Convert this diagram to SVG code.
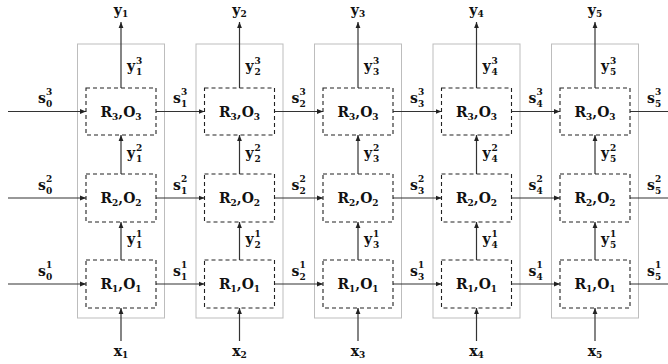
<svg xmlns="http://www.w3.org/2000/svg" width="668" height="364" viewBox="0 0 668 364">
<style>
.outer{fill:none;stroke:#bdbdbd;stroke-width:1}
.dash{fill:#fff;stroke:#222;stroke-width:1.1;stroke-dasharray:4,3}
.c{stroke:#333;stroke-width:1.2;fill:none}
.a{marker-end:url(#ah)}
text{font-family:"DejaVu Serif","Liberation Serif",serif;font-weight:bold;fill:#111}
.m{font-size:14px}
.s{font-size:9px}
.n{font-size:14px;text-anchor:middle}
</style>
<defs>
<marker id="ah" viewBox="0 0 6 6" refX="6" refY="3" markerWidth="6" markerHeight="6" markerUnits="userSpaceOnUse" orient="auto">
<path d="M0,0.6 L6,3 L0,5.4 z" fill="#222"/>
</marker>
</defs>
<g id="cells">
<rect class="outer" x="77.5" y="44" width="87" height="274"/>
<rect class="outer" x="196" y="44" width="87" height="274"/>
<rect class="outer" x="314.5" y="44" width="87" height="274"/>
<rect class="outer" x="433" y="44" width="87" height="274"/>
<rect class="outer" x="551.5" y="44" width="87" height="274"/>
</g>
<g id="connectors">
<line class="c a" x1="121" y1="88" x2="121" y2="22"/>
<line class="c a" x1="121" y1="174" x2="121" y2="135"/>
<line class="c a" x1="121" y1="260" x2="121" y2="222"/>
<line class="c a" x1="121" y1="341" x2="121" y2="308"/>
<line class="c a" x1="239.5" y1="88" x2="239.5" y2="22"/>
<line class="c a" x1="239.5" y1="174" x2="239.5" y2="135"/>
<line class="c a" x1="239.5" y1="260" x2="239.5" y2="222"/>
<line class="c a" x1="239.5" y1="341" x2="239.5" y2="308"/>
<line class="c a" x1="358" y1="88" x2="358" y2="22"/>
<line class="c a" x1="358" y1="174" x2="358" y2="135"/>
<line class="c a" x1="358" y1="260" x2="358" y2="222"/>
<line class="c a" x1="358" y1="341" x2="358" y2="308"/>
<line class="c a" x1="476.5" y1="88" x2="476.5" y2="22"/>
<line class="c a" x1="476.5" y1="174" x2="476.5" y2="135"/>
<line class="c a" x1="476.5" y1="260" x2="476.5" y2="222"/>
<line class="c a" x1="476.5" y1="341" x2="476.5" y2="308"/>
<line class="c a" x1="595" y1="88" x2="595" y2="22"/>
<line class="c a" x1="595" y1="174" x2="595" y2="135"/>
<line class="c a" x1="595" y1="260" x2="595" y2="222"/>
<line class="c a" x1="595" y1="341" x2="595" y2="308"/>
<line class="c a" x1="8" y1="111.5" x2="86" y2="111.5"/>
<line class="c a" x1="8" y1="198" x2="86" y2="198"/>
<line class="c a" x1="8" y1="284" x2="86" y2="284"/>
<line class="c a" x1="156" y1="111.5" x2="204.5" y2="111.5"/>
<line class="c a" x1="156" y1="198" x2="204.5" y2="198"/>
<line class="c a" x1="156" y1="284" x2="204.5" y2="284"/>
<line class="c a" x1="274.5" y1="111.5" x2="323" y2="111.5"/>
<line class="c a" x1="274.5" y1="198" x2="323" y2="198"/>
<line class="c a" x1="274.5" y1="284" x2="323" y2="284"/>
<line class="c a" x1="393" y1="111.5" x2="441.5" y2="111.5"/>
<line class="c a" x1="393" y1="198" x2="441.5" y2="198"/>
<line class="c a" x1="393" y1="284" x2="441.5" y2="284"/>
<line class="c a" x1="511.5" y1="111.5" x2="560" y2="111.5"/>
<line class="c a" x1="511.5" y1="198" x2="560" y2="198"/>
<line class="c a" x1="511.5" y1="284" x2="560" y2="284"/>
<line class="c" x1="630" y1="111.5" x2="668" y2="111.5"/>
<line class="c" x1="630" y1="198" x2="668" y2="198"/>
<line class="c" x1="630" y1="284" x2="668" y2="284"/>
</g>
<g id="n1_3"><rect class="dash" x="86" y="88" width="70" height="47"/><text class="n" x="121" y="116.5">R<tspan class="s" dy="3">3</tspan><tspan dy="-3">,O</tspan><tspan class="s" dy="3">3</tspan></text></g>
<g id="n1_2"><rect class="dash" x="86" y="174" width="70" height="48"/><text class="n" x="121" y="203">R<tspan class="s" dy="3">2</tspan><tspan dy="-3">,O</tspan><tspan class="s" dy="3">2</tspan></text></g>
<g id="n1_1"><rect class="dash" x="86" y="260" width="70" height="48"/><text class="n" x="121" y="289">R<tspan class="s" dy="3">1</tspan><tspan dy="-3">,O</tspan><tspan class="s" dy="3">1</tspan></text></g>
<g id="n2_3"><rect class="dash" x="204.5" y="88" width="70" height="47"/><text class="n" x="239.5" y="116.5">R<tspan class="s" dy="3">3</tspan><tspan dy="-3">,O</tspan><tspan class="s" dy="3">3</tspan></text></g>
<g id="n2_2"><rect class="dash" x="204.5" y="174" width="70" height="48"/><text class="n" x="239.5" y="203">R<tspan class="s" dy="3">2</tspan><tspan dy="-3">,O</tspan><tspan class="s" dy="3">2</tspan></text></g>
<g id="n2_1"><rect class="dash" x="204.5" y="260" width="70" height="48"/><text class="n" x="239.5" y="289">R<tspan class="s" dy="3">1</tspan><tspan dy="-3">,O</tspan><tspan class="s" dy="3">1</tspan></text></g>
<g id="n3_3"><rect class="dash" x="323" y="88" width="70" height="47"/><text class="n" x="358" y="116.5">R<tspan class="s" dy="3">3</tspan><tspan dy="-3">,O</tspan><tspan class="s" dy="3">3</tspan></text></g>
<g id="n3_2"><rect class="dash" x="323" y="174" width="70" height="48"/><text class="n" x="358" y="203">R<tspan class="s" dy="3">2</tspan><tspan dy="-3">,O</tspan><tspan class="s" dy="3">2</tspan></text></g>
<g id="n3_1"><rect class="dash" x="323" y="260" width="70" height="48"/><text class="n" x="358" y="289">R<tspan class="s" dy="3">1</tspan><tspan dy="-3">,O</tspan><tspan class="s" dy="3">1</tspan></text></g>
<g id="n4_3"><rect class="dash" x="441.5" y="88" width="70" height="47"/><text class="n" x="476.5" y="116.5">R<tspan class="s" dy="3">3</tspan><tspan dy="-3">,O</tspan><tspan class="s" dy="3">3</tspan></text></g>
<g id="n4_2"><rect class="dash" x="441.5" y="174" width="70" height="48"/><text class="n" x="476.5" y="203">R<tspan class="s" dy="3">2</tspan><tspan dy="-3">,O</tspan><tspan class="s" dy="3">2</tspan></text></g>
<g id="n4_1"><rect class="dash" x="441.5" y="260" width="70" height="48"/><text class="n" x="476.5" y="289">R<tspan class="s" dy="3">1</tspan><tspan dy="-3">,O</tspan><tspan class="s" dy="3">1</tspan></text></g>
<g id="n5_3"><rect class="dash" x="560" y="88" width="70" height="47"/><text class="n" x="595" y="116.5">R<tspan class="s" dy="3">3</tspan><tspan dy="-3">,O</tspan><tspan class="s" dy="3">3</tspan></text></g>
<g id="n5_2"><rect class="dash" x="560" y="174" width="70" height="48"/><text class="n" x="595" y="203">R<tspan class="s" dy="3">2</tspan><tspan dy="-3">,O</tspan><tspan class="s" dy="3">2</tspan></text></g>
<g id="n5_1"><rect class="dash" x="560" y="260" width="70" height="48"/><text class="n" x="595" y="289">R<tspan class="s" dy="3">1</tspan><tspan dy="-3">,O</tspan><tspan class="s" dy="3">1</tspan></text></g>
<g id="labels">
<text class="n" x="121" y="15">y<tspan class="s" dy="2">1</tspan></text>
<text class="n" x="239.5" y="15">y<tspan class="s" dy="2">2</tspan></text>
<text class="n" x="358" y="15">y<tspan class="s" dy="2">3</tspan></text>
<text class="n" x="476.5" y="15">y<tspan class="s" dy="2">4</tspan></text>
<text class="n" x="595" y="15">y<tspan class="s" dy="2">5</tspan></text>
<text class="n" x="121" y="356">x<tspan class="s" dy="2">1</tspan></text>
<text class="n" x="239.5" y="356">x<tspan class="s" dy="2">2</tspan></text>
<text class="n" x="358" y="356">x<tspan class="s" dy="2">3</tspan></text>
<text class="n" x="476.5" y="356">x<tspan class="s" dy="2">4</tspan></text>
<text class="n" x="595" y="356">x<tspan class="s" dy="2">5</tspan></text>
<g id="vy">
<text class="m" x="127" y="71">y</text><text class="s" x="136" y="64">3</text><text class="s" x="136" y="75">1</text>
<text class="m" x="127" y="158">y</text><text class="s" x="136" y="151">2</text><text class="s" x="136" y="162">1</text>
<text class="m" x="127" y="244">y</text><text class="s" x="136" y="237">1</text><text class="s" x="136" y="248">1</text>
<text class="m" x="245.5" y="71">y</text><text class="s" x="254.5" y="64">3</text><text class="s" x="254.5" y="75">2</text>
<text class="m" x="245.5" y="158">y</text><text class="s" x="254.5" y="151">2</text><text class="s" x="254.5" y="162">2</text>
<text class="m" x="245.5" y="244">y</text><text class="s" x="254.5" y="237">1</text><text class="s" x="254.5" y="248">2</text>
<text class="m" x="364" y="71">y</text><text class="s" x="373" y="64">3</text><text class="s" x="373" y="75">3</text>
<text class="m" x="364" y="158">y</text><text class="s" x="373" y="151">2</text><text class="s" x="373" y="162">3</text>
<text class="m" x="364" y="244">y</text><text class="s" x="373" y="237">1</text><text class="s" x="373" y="248">3</text>
<text class="m" x="482.5" y="71">y</text><text class="s" x="491.5" y="64">3</text><text class="s" x="491.5" y="75">4</text>
<text class="m" x="482.5" y="158">y</text><text class="s" x="491.5" y="151">2</text><text class="s" x="491.5" y="162">4</text>
<text class="m" x="482.5" y="244">y</text><text class="s" x="491.5" y="237">1</text><text class="s" x="491.5" y="248">4</text>
<text class="m" x="601" y="71">y</text><text class="s" x="610" y="64">3</text><text class="s" x="610" y="75">5</text>
<text class="m" x="601" y="158">y</text><text class="s" x="610" y="151">2</text><text class="s" x="610" y="162">5</text>
<text class="m" x="601" y="244">y</text><text class="s" x="610" y="237">1</text><text class="s" x="610" y="248">5</text>
</g>
<g id="hs">
<text class="m" x="38" y="103">s</text><text class="s" x="46" y="95">3</text><text class="s" x="46" y="107">0</text>
<text class="m" x="38" y="190">s</text><text class="s" x="46" y="182">2</text><text class="s" x="46" y="194">0</text>
<text class="m" x="38" y="276">s</text><text class="s" x="46" y="268">1</text><text class="s" x="46" y="280">0</text>
<text class="m" x="173" y="103">s</text><text class="s" x="181" y="95">3</text><text class="s" x="181" y="107">1</text>
<text class="m" x="173" y="190">s</text><text class="s" x="181" y="182">2</text><text class="s" x="181" y="194">1</text>
<text class="m" x="173" y="276">s</text><text class="s" x="181" y="268">1</text><text class="s" x="181" y="280">1</text>
<text class="m" x="291.5" y="103">s</text><text class="s" x="299.5" y="95">3</text><text class="s" x="299.5" y="107">2</text>
<text class="m" x="291.5" y="190">s</text><text class="s" x="299.5" y="182">2</text><text class="s" x="299.5" y="194">2</text>
<text class="m" x="291.5" y="276">s</text><text class="s" x="299.5" y="268">1</text><text class="s" x="299.5" y="280">2</text>
<text class="m" x="410" y="103">s</text><text class="s" x="418" y="95">3</text><text class="s" x="418" y="107">3</text>
<text class="m" x="410" y="190">s</text><text class="s" x="418" y="182">2</text><text class="s" x="418" y="194">3</text>
<text class="m" x="410" y="276">s</text><text class="s" x="418" y="268">1</text><text class="s" x="418" y="280">3</text>
<text class="m" x="528.5" y="103">s</text><text class="s" x="536.5" y="95">3</text><text class="s" x="536.5" y="107">4</text>
<text class="m" x="528.5" y="190">s</text><text class="s" x="536.5" y="182">2</text><text class="s" x="536.5" y="194">4</text>
<text class="m" x="528.5" y="276">s</text><text class="s" x="536.5" y="268">1</text><text class="s" x="536.5" y="280">4</text>
<text class="m" x="647" y="103">s</text><text class="s" x="655" y="95">3</text><text class="s" x="655" y="107">5</text>
<text class="m" x="647" y="190">s</text><text class="s" x="655" y="182">2</text><text class="s" x="655" y="194">5</text>
<text class="m" x="647" y="276">s</text><text class="s" x="655" y="268">1</text><text class="s" x="655" y="280">5</text>
</g>
</g>
</svg>
